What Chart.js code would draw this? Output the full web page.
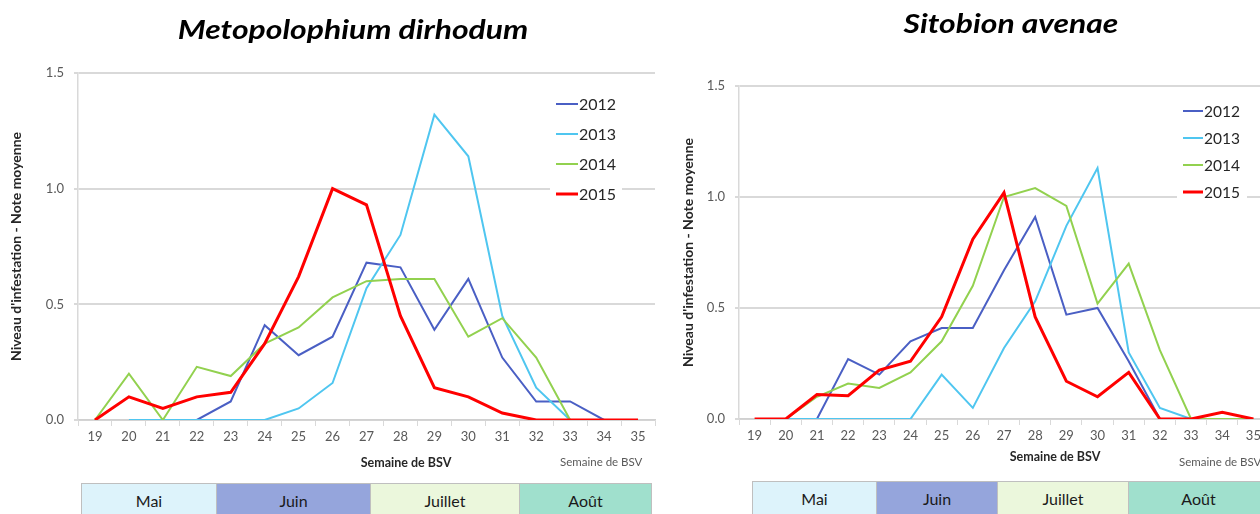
<!DOCTYPE html>
<html>
<head>
<meta charset="utf-8">
<script src="https://cdn.jsdelivr.net/npm/chart.js@4"></script>
<style>
  body { margin:0; width:1260px; height:514px; overflow:hidden; background:#fff; position:relative; font-family:Lato, "Open Sans", sans-serif; }
  canvas { position:absolute; top:0; }
  #c1 { left:0; }
  #c2 { left:660px; }
  .title { position:absolute; font-weight:bold; font-style:italic; font-size:27px; color:#000; white-space:nowrap; transform:translateX(-50%) scaleX(1.18); line-height:1; }
  .xtitle { position:absolute; font-weight:bold; font-size:12.5px; color:#262626; white-space:nowrap; transform:translateX(-50%); line-height:1; }
  .xnote { position:absolute; font-size:11.5px; color:#595959; white-space:nowrap; line-height:1; }
  .months { position:absolute; display:flex; height:40px; border:1px solid #bfbfbf; border-bottom:none; }
  .months div { border-left:1px solid #bfbfbf; text-align:center; line-height:34px; font-size:16px; color:#1a1a1a; box-sizing:border-box; }
  .months div:first-child { border-left:none; }
</style>
</head>
<body>
<canvas id="c1" width="660" height="460"></canvas>
<canvas id="c2" width="620" height="460"></canvas>

<div class="title" style="left:353px; top:15px;">Metopolophium dirhodum</div>
<div class="title" style="left:1011px; top:9px;">Sitobion avenae</div>
<div class="xtitle" style="left:406px; top:457px;">Semaine de BSV</div>
<div class="xtitle" style="left:1055px; top:451px;">Semaine de BSV</div>
<div class="xnote" style="left:560px; top:456px;">Semaine de BSV</div>
<div class="xnote" style="left:1179px; top:456px;">Semaine de BSV</div>

<div class="months" id="m1" style="left:81px; top:483px;"></div>
<div class="months" id="m2" style="left:752px; top:481px;"></div>

<script>
// ---------- data ----------
const weeks = ["19","20","21","22","23","24","25","26","27","28","29","30","31","32","33","34","35"];
const years = ["2012","2013","2014","2015"];
const months = ["Mai","Juin","Juillet","Août"];

// Metopolophium dirhodum
const metopo2012 = [null,null,null,0,0.08,0.41,0.28,0.36,0.68,0.66,0.39,0.61,0.27,0.08,0.08,0,null];
const metopo2013 = [null,0,0,0,0,0,0.05,0.16,0.57,0.80,1.32,1.14,0.45,0.14,0,null,null];
const metopo2014 = [0,0.20,0,0.23,0.19,0.33,0.40,0.53,0.60,0.61,0.61,0.36,0.44,0.27,0,null,null];
const metopo2015 = [0,0.10,0.05,0.10,0.12,0.33,0.62,1.00,0.93,0.45,0.14,0.10,0.03,0,0,0,0];

// Sitobion avenae
const sito2012 = [null,null,0,0.27,0.20,0.35,0.41,0.41,0.67,0.91,0.47,0.50,0.26,0,null,null,null];
const sito2013 = [null,0,0,0,0,0,0.20,0.05,0.32,0.53,0.87,1.13,0.30,0.05,0,null,null];
const sito2014 = [null,0,0.10,0.16,0.14,0.21,0.35,0.60,1.00,1.04,0.96,0.52,0.70,0.31,0,0,0];
const sito2015 = [0,0,0.11,0.105,0.22,0.26,0.46,0.81,1.02,0.46,0.17,0.10,0.21,0,0,0.03,0];

// ---------- styles ----------
const lineColors = ["#4a5fc4","#4fc6f0","#92d14f","#ff0000"];
const lineWidths = [2, 2, 2, 3];
const monthColors = ["#ddf3fb","#95a5dc","#ebf7dc","#a0e0cd"];

// month bands (plain html under each chart)
function fillMonths(id, widths){
  const box = document.getElementById(id);
  months.forEach((m, i) => {
    const d = document.createElement("div");
    d.textContent = m;
    d.style.width = widths[i] + "px";
    d.style.background = monthColors[i];
    box.appendChild(d);
  });
}
fillMonths("m1", [134,154,149,132]);
fillMonths("m2", [123,121,131,140]);

// legend drawn inside the plot, excel style
const insideLegend = {
  id: "insideLegend",
  beforeDatasetsDraw(chart, args, o){
    const ctx = chart.ctx;
    ctx.save();
    ctx.fillStyle = "#fff";
    ctx.fillRect(o.x - 6, o.y - o.gap/2, o.line + 50, o.gap * 4);
    ctx.font = o.font;
    ctx.textBaseline = "middle";
    chart.data.datasets.forEach((ds, i) => {
      const y = o.y + i * o.gap;
      ctx.strokeStyle = ds.borderColor;
      ctx.lineWidth = ds.borderWidth;
      ctx.beginPath(); ctx.moveTo(o.x, y); ctx.lineTo(o.x + o.line, y); ctx.stroke();
      ctx.fillStyle = "#262626";
      ctx.fillText(ds.label, o.x + o.line + 1, y + 1);
    });
    ctx.restore();
  }
};

function makeChart(id, series, c){
  const datasets = series.map((s, i) => ({
    label: years[i],
    data: s,
    borderColor: lineColors[i],
    backgroundColor: lineColors[i],
    borderWidth: lineWidths[i],
    pointRadius: 0,
    tension: 0,
    order: 3 - i
  }));
  return new Chart(document.getElementById(id), {
    type: "line",
    data: { labels: weeks, datasets },
    plugins: [insideLegend],
    options: {
      responsive: false,
      animation: false,
      layout: { padding: c.padding },
      plugins: {
        legend: { display: false },
        tooltip: { enabled: false },
        insideLegend: c.legend
      },
      scales: {
        x: {
          offset: true,
          afterFit: s => { s.height = c.xHeight; },
          grid: { offset: true, drawOnChartArea: false, drawTicks: true, tickLength: 6, color: "#d9d9d9" },
          border: { color: "#d0d0d0", width: 1.5 },
          ticks: { color: "#595959", font: { family: "Lato", size: 13 }, padding: 3, maxRotation: 0, autoSkip: false }
        },
        y: {
          min: 0, max: 1.5,
          afterFit: s => { s.width = c.yWidth; },
          grid: { color: "#d9d9d9", lineWidth: 2, tickLength: 4 },
          border: { color: "#d9d9d9", width: 1.5 },
          ticks: { stepSize: 0.5, color: "#595959", font: { family: "Lato", size: 13 }, padding: c.yPad,
                   callback: v => v.toFixed(1) },
          title: { display: true, text: "Niveau d'infestation - Note moyenne", color: "#262626",
                   font: { family: "Lato", size: 14, weight: "bold" }, padding: { top: 2, bottom: 0 } }
        }
      }
    }
  });
}

makeChart("c1", [metopo2012, metopo2013, metopo2014, metopo2015], {
  padding: { left: 6, top: 73, right: 5, bottom: 0 },
  xHeight: 40, yWidth: 72, yPad: 10,
  legend: { x: 556, y: 104, gap: 30, line: 22, font: "16px Lato" }
});

makeChart("c2", [sito2012, sito2013, sito2014, sito2015], {
  padding: { left: 18, top: 86, right: 11, bottom: 0 },
  xHeight: 41, yWidth: 61, yPad: 10,
  legend: { x: 523, y: 111, gap: 27, line: 20, font: "15.5px Lato" }
});
</script>
</body>
</html>
